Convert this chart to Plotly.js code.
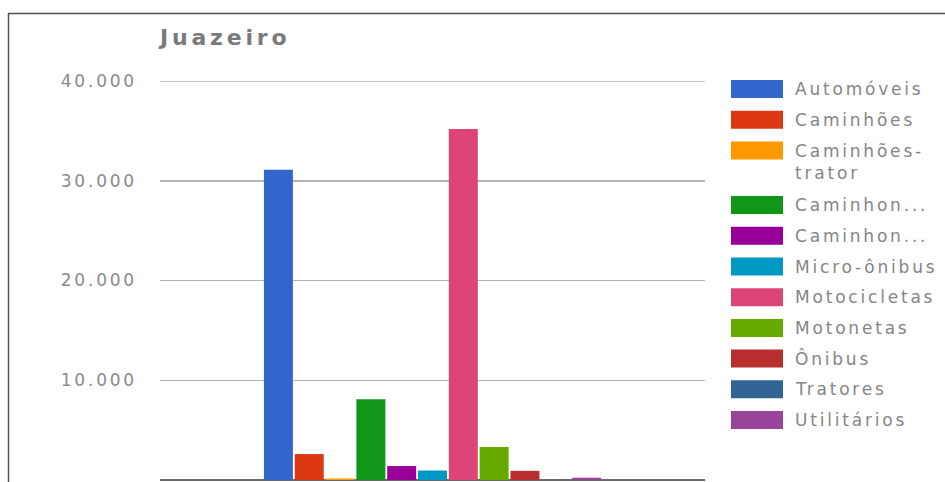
<!DOCTYPE html>
<html>
<head>
<meta charset="utf-8">
<script src="https://cdn.plot.ly/plotly-3.0.1.min.js"></script>
<style>
  html, body { margin: 0; padding: 0; background: #fff; }
  #chart { width: 945px; height: 482px; }
  #chart text { letter-spacing: 2.8px; }
  #chart .gtitle { letter-spacing: 3.8px; }
</style>
</head>
<body>
<div id="chart"></div>
<script>
// ---- data ----
const categoryLabel = ["Juazeiro"];
const seriesNames = ["Automóveis", "Caminhões", "Caminhões-trator", "Caminhonete", "Caminhoneta",
                     "Micro-ônibus", "Motocicletas", "Motonetas", "Ônibus", "Tratores", "Utilitários"];
const legendLabels = ["Automóveis", "Caminhões", "Caminhões-<br>trator", "Caminhon...", "Caminhon...",
                      "Micro-ônibus", "Motocicletas", "Motonetas", "Ônibus", "Tratores", "Utilitários"];
const seriesValues = [31100, 2600, 150, 8100, 1400, 950, 35200, 3300, 920, 20, 230];
const seriesColors = ["#3366cc", "#dc3912", "#ff9900", "#109618", "#990099",
                      "#0099c6", "#dd4477", "#66aa00", "#b82e2e", "#316395", "#994499"];
const yTicks = [0, 10000, 20000, 30000, 40000];

// ---- layout helpers (pixel -> paper) ----
const W = 945, H = 482;
const L = 160, R = 705, T = 81, B = 480;
const px = x => (x - L) / (R - L);
const py = y => (B - y) / (B - T);

const traces = seriesNames.map((n, i) => ({
  type: "bar",
  name: n,
  x: categoryLabel,
  y: [seriesValues[i]],
  marker: { color: seriesColors[i], line: { width: 0 } },
  hoverinfo: "name+y"
}));

const shapes = [];
const annotations = [];

// top gridline (Plotly omits the grid line at the plot edge)
shapes.push({ type: "line", xref: "paper", yref: "y", x0: 0, x1: 1,
              y0: yTicks[yTicks.length - 1], y1: yTicks[yTicks.length - 1],
              line: { color: "#b4b4b4", width: 1.5 } });

let yc = 89;
legendLabels.forEach((lab, i) => {
  shapes.push({
    type: "rect", xref: "paper", yref: "paper",
    x0: px(731), x1: px(783), y0: py(yc - 9), y1: py(yc + 9),
    fillcolor: seriesColors[i], line: { width: 0 }
  });
  const twoLine = lab.indexOf("<br>") >= 0;
  annotations.push({
    xref: "paper", yref: "paper",
    x: px(793), y: twoLine ? py(yc - 11.5) : py(yc),
    xanchor: "left", yanchor: twoLine ? "top" : "middle",
    align: "left",
    text: lab, showarrow: false,
    font: { family: "DejaVu Sans", size: 17, color: "#858585" }
  });
  yc += 30.7 + (twoLine ? 24 : 0);
});

// frame lines (top and left)
shapes.push({ type: "line", xref: "paper", yref: "paper", x0: px(8), x1: px(945), y0: py(13.5), y1: py(13.5),
              line: { color: "#505050", width: 1.5 } });
shapes.push({ type: "line", xref: "paper", yref: "paper", x0: px(8.5), x1: px(8.5), y0: py(13.5), y1: py(483),
              line: { color: "#505050", width: 1.5 } });

const layout = {
  width: W, height: H, autosize: false,
  margin: { l: L, r: W - R, t: T, b: H - B, pad: 0 },
  paper_bgcolor: "#fff", plot_bgcolor: "#fff",
  separators: ",.",
  showlegend: false,
  barmode: "group",
  bargap: 0.378,
  bargroupgap: 0.06,
  title: {
    text: "Juazeiro",
    x: 0, xref: "paper", xanchor: "left",
    y: 1 - 37.5 / H, yref: "container", yanchor: "middle",
    font: { family: "DejaVu Sans", size: 22, color: "#7a7a7a", weight: "bold" }
  },
  xaxis: {
    type: "category", range: [-0.5, 0.5], fixedrange: true,
    showticklabels: false, showgrid: false, zeroline: false, showline: false, ticks: ""
  },
  yaxis: {
    range: [0, 40000], tickvals: yTicks, tickformat: ",d",
    showgrid: true, gridcolor: "#b4b4b4", gridwidth: 1.5,
    zeroline: true, zerolinecolor: "#6e6e6e", zerolinewidth: 2,
    showline: false, ticks: "",
    ticklabelstandoff: 22,
    tickfont: { family: "DejaVu Sans", size: 17, color: "#8a8a8a" }
  },
  shapes: shapes,
  annotations: annotations
};

Plotly.newPlot("chart", traces, layout, { displayModeBar: false, staticPlot: true });
</script>
</body>
</html>
